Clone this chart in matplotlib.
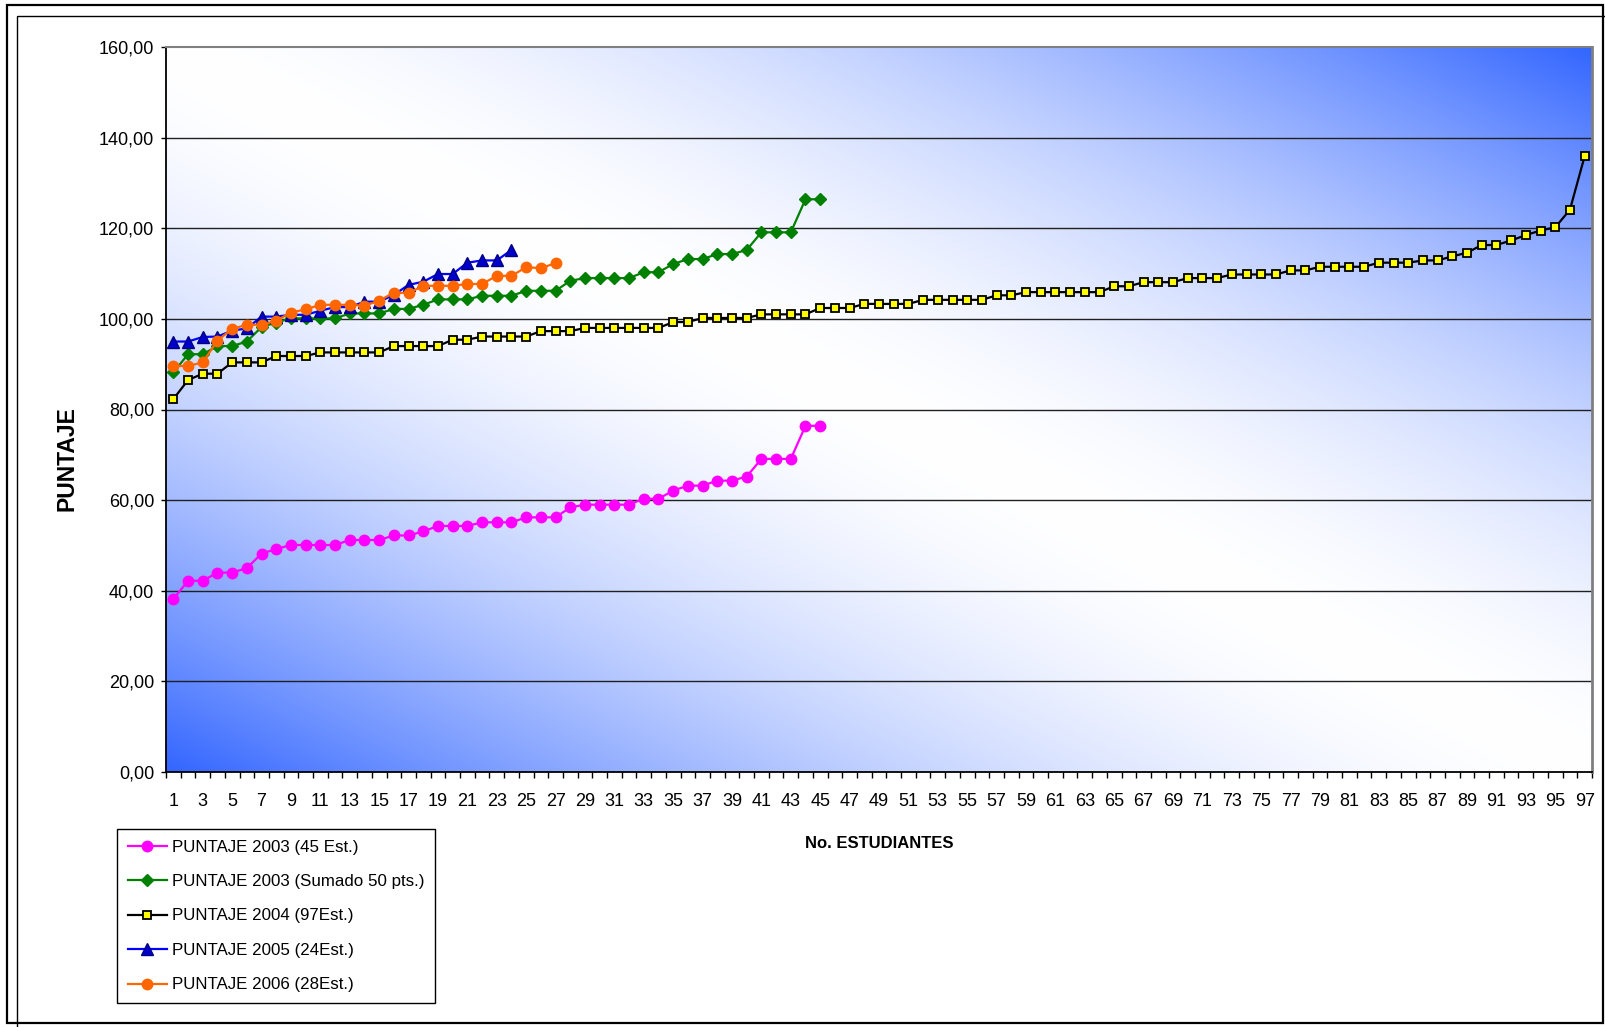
import matplotlib
matplotlib.use("Agg")
import matplotlib.pyplot as plt
import numpy as np
from matplotlib.patches import Rectangle

# ---- data ----
puntaje_2003 = [38.2, 42.2, 42.2, 44.0, 44.0, 45.0, 48.2, 49.2, 50.1, 50.1,
                50.1, 50.1, 51.2, 51.2, 51.2, 52.2, 52.2, 53.1, 54.3, 54.3,
                54.3, 55.1, 55.1, 55.1, 56.2, 56.2, 56.2, 58.4, 59.0, 59.0,
                59.0, 59.0, 60.3, 60.3, 62.1, 63.2, 63.2, 64.3, 64.3, 65.2,
                69.1, 69.1, 69.1, 76.4, 76.4]
puntaje_2003_sumado = [v + 50 for v in puntaje_2003]
puntaje_2004 = [82.3, 86.5, 87.9, 87.9, 90.4, 90.4, 90.4, 91.8, 91.8, 91.8,
                92.6, 92.6, 92.6, 92.6, 92.6, 94.0, 94.0, 94.0, 94.0, 95.4,
                95.4, 96.1, 96.1, 96.1, 96.1, 97.3, 97.3, 97.3, 98.0, 98.0,
                98.0, 98.0, 98.0, 98.0, 99.3, 99.3, 100.2, 100.2, 100.2, 100.2,
                101.0, 101.0, 101.0, 101.0, 102.4, 102.4, 102.4, 103.3, 103.3, 103.3,
                103.3, 104.2, 104.2, 104.2, 104.2, 104.2, 105.2, 105.2, 105.9, 105.9,
                105.9, 105.9, 105.9, 105.9, 107.2, 107.2, 108.1, 108.1, 108.1, 109.0,
                109.0, 109.0, 109.8, 109.8, 109.8, 109.8, 110.7, 110.7, 111.5, 111.5,
                111.5, 111.5, 112.4, 112.4, 112.4, 112.9, 112.9, 113.8, 114.6, 116.3,
                116.3, 117.3, 118.5, 119.5, 120.2, 124.1, 135.9]
puntaje_2005 = [95.0, 95.0, 96.0, 96.1, 97.4, 97.9, 100.5, 100.5, 100.9, 100.9,
                101.8, 102.6, 102.6, 103.8, 103.8, 105.3, 107.5, 108.2, 109.9, 109.9,
                112.4, 112.9, 112.9, 115.2]
puntaje_2006 = [89.6, 89.6, 90.4, 95.2, 97.8, 98.7, 98.7, 99.6, 101.4, 102.1,
                103.1, 103.1, 103.1, 102.9, 104.0, 105.8, 105.7, 107.3, 107.3, 107.3,
                107.7, 107.7, 109.5, 109.5, 111.4, 111.2, 112.3]

series_labels = ["PUNTAJE 2003 (45 Est.)", "PUNTAJE 2003 (Sumado 50 pts.)",
                 "PUNTAJE 2004 (97Est.)", "PUNTAJE 2005 (24Est.)", "PUNTAJE 2006 (28Est.)"]
y_ticks = [0, 20, 40, 60, 80, 100, 120, 140, 160]

plt.rcParams["font.family"] = ["Liberation Sans", "DejaVu Sans"]

W, H = 1605, 1027
fig = plt.figure(figsize=(W / 100, H / 100), dpi=100)
fig.patch.set_facecolor("white")

# plot area in pixel coords: left 166, right 1592, top 47, bottom 772
ax = fig.add_axes([166 / W, 1 - 772 / H, (1592 - 166) / W, (772 - 47) / H])

# diagonal gradient: blue corners (bottom-left / top-right), white along the other diagonal
u = np.linspace(0, 1, 400)
v = np.linspace(0, 1, 300)
uu, vv = np.meshgrid(u, v)
s = np.abs(uu + vv - 1) ** 1.7
blue = np.array([51, 102, 255]) / 255.0
img = (1 - s)[..., None] * np.ones(3) + s[..., None] * blue
ax.imshow(img, extent=(0, 1, 0, 1), transform=ax.transAxes, origin="lower",
          aspect="auto", zorder=0, interpolation="bilinear")

for yv in y_ticks[1:-1]:
    ax.axhline(yv, color="#202020", lw=1.0, zorder=1)

styles = [
    dict(color="#FF00FF", marker="o", ms=7.5, mfc="#FF00FF", mec="#FF00FF"),
    dict(color="#008000", marker="D", ms=6.5, mfc="#008000", mec="#008000"),
    dict(color="#000000", marker="s", ms=6, mfc="#FFFF00", mec="#000000", mew=1.3),
    dict(color="#0000FF", marker="^", ms=8.5, mfc="#0000CC", mec="#000080"),
    dict(color="#FF6600", marker="o", ms=7.5, mfc="#FF6600", mec="#FF6600"),
]
all_series = [puntaje_2003, puntaje_2003_sumado, puntaje_2004, puntaje_2005, puntaje_2006]
handles = []
for data, st, lab in zip(all_series, styles, series_labels):
    x = np.arange(1, len(data) + 1)
    ln, = ax.plot(x, data, lw=1.6, zorder=3, label=lab, **st)
    handles.append(ln)

ax.set_xlim(0.5, 97.5)
ax.set_ylim(0, 160)

ax.set_yticks(y_ticks)
ax.set_yticklabels([f"{t:.2f}".replace(".", ",") for t in y_ticks], fontsize=13)
ax.tick_params(axis="y", direction="out", length=3.5, width=1, pad=5, colors="black")

ax.set_xticks(np.arange(1, 98, 2))
ax.set_xticklabels([str(i) for i in range(1, 98, 2)], fontsize=13)
ax.set_xticks(np.arange(0.5, 98, 1), minor=True)
ax.tick_params(axis="x", which="major", length=0, pad=15)
ax.tick_params(axis="x", which="minor", direction="out", length=4, width=1)

ax.spines["left"].set_color("black")
ax.spines["bottom"].set_color("black")
ax.spines["left"].set_linewidth(1.3)
ax.spines["bottom"].set_linewidth(1.3)
ax.spines["top"].set_color("#808080")
ax.spines["right"].set_color("#808080")
ax.spines["top"].set_linewidth(1.5)
ax.spines["right"].set_linewidth(2)

fig.text(879 / W, 1 - 844 / H, "No. ESTUDIANTES", ha="center", va="center",
         fontsize=12, fontweight="bold")
fig.text(67 / W, 1 - 459 / H, "PUNTAJE", ha="center", va="center", rotation=90,
         fontsize=16.5, fontweight="bold")

leg = fig.legend(handles=handles, loc="upper left",
                 bbox_to_anchor=(117 / W, 1 - 829 / H), bbox_transform=fig.transFigure,
                 borderaxespad=0, fontsize=12.2, frameon=True, fancybox=False,
                 edgecolor="black", framealpha=1, handlelength=2.35,
                 handletextpad=0.3, labelspacing=1.15, borderpad=0.62)
leg.get_frame().set_linewidth(1.0)

# double frame round the chart
fig.patches.append(Rectangle((7 / W, 1 - 1023 / H), (1603 - 7) / W, (1023 - 5) / H,
                             transform=fig.transFigure, fill=False, ec="black", lw=1.6))
fig.patches.append(Rectangle((17 / W, 1 - 1030 / H), (1610 - 17) / W, (1030 - 16) / H,
                             transform=fig.transFigure, fill=False, ec="black", lw=1.0))

fig.savefig("out.png", dpi=100)
